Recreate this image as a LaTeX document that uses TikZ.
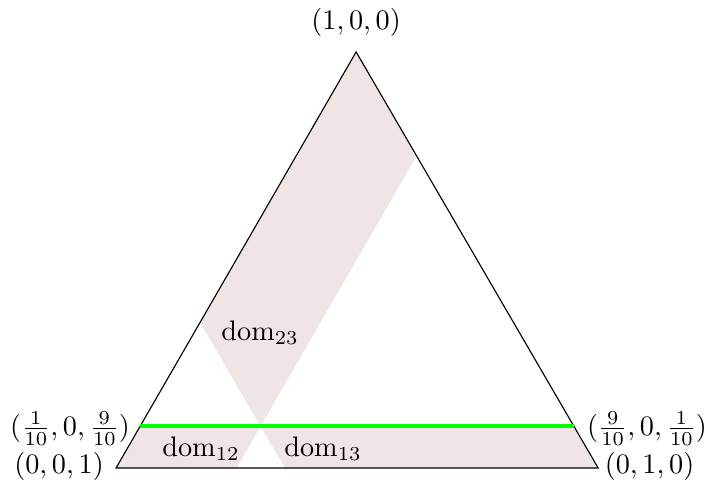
\documentclass[tikz,border=0pt]{standalone}
\usepackage{tikz}
\usepackage{amsmath}
\usepackage{xcolor}
\definecolor{domShade}{RGB}{240,229,229}
\newcommand{\bcPoint}[3]{\ensuremath{(#1,#2,#3)}}
\newcommand{\bcDom}[1]{\ensuremath{\mathrm{dom}_{#1}}}

\begin{document}
\begin{tikzpicture}[x=1em,y=-1em]
\useasboundingbox (0,0) rectangle (25.07,17.07);
\coordinate (vTop) at (12.61,1.84);
\coordinate (vRight) at (21.18,16.57);
\coordinate (vLeft) at (4.11,16.57);
\coordinate (gLeft) at (barycentric cs:vTop=0.1,vLeft=0.9);
\coordinate (gRight) at (barycentric cs:vTop=0.1,vRight=0.9);
\coordinate (cross) at (barycentric cs:vTop=0.1,vRight=0.25,vLeft=0.65);
\coordinate (sideA) at (barycentric cs:vTop=0.75,vRight=0.25);
\coordinate (sideB) at (barycentric cs:vTop=0.35,vLeft=0.65);
\coordinate (baseA) at (barycentric cs:vRight=0.25,vLeft=0.75);
\coordinate (baseB) at (barycentric cs:vRight=0.35,vLeft=0.65);
\fill[domShade] (vTop) -- (sideA) -- (cross) -- (sideB) -- cycle;
\fill[domShade] (vLeft) -- (gLeft) -- (cross) -- (baseA) -- cycle;
\fill[domShade] (vRight) -- (gRight) -- (cross) -- (baseB) -- cycle;
\draw (vTop) -- (vRight) -- (vLeft) -- cycle;
\draw[green, line width=1.4pt] (gLeft) -- (gRight);
\node (lTop) [anchor=base, inner sep=0pt] at (12.61,1.04) {\bcPoint{1}{0}{0}};
\node (lLeft) [anchor=base, inner sep=0pt] at (2.09,16.78) {\bcPoint{0}{0}{1}};
\node (lRight) [anchor=base, inner sep=0pt] at (23.0,16.78) {\bcPoint{0}{1}{0}};
\node (lgLeft) [anchor=base, inner sep=0pt] at (2.48,15.42) {\bcPoint{\frac{1}{10}}{0}{\frac{9}{10}}};
\node (lgRight) [anchor=base, inner sep=0pt] at (22.91,15.42) {\bcPoint{\frac{9}{10}}{0}{\frac{1}{10}}};
\node (dTwoThree) [anchor=base, inner sep=0pt] at (9.21,12.04) {\bcDom{23}};
\node (dOneTwo) [anchor=base, inner sep=0pt] at (7.12,16.15) {\bcDom{12}};
\node (dOneThree) [anchor=base, inner sep=0pt] at (11.44,16.15) {\bcDom{13}};
\end{tikzpicture}
\end{document}
